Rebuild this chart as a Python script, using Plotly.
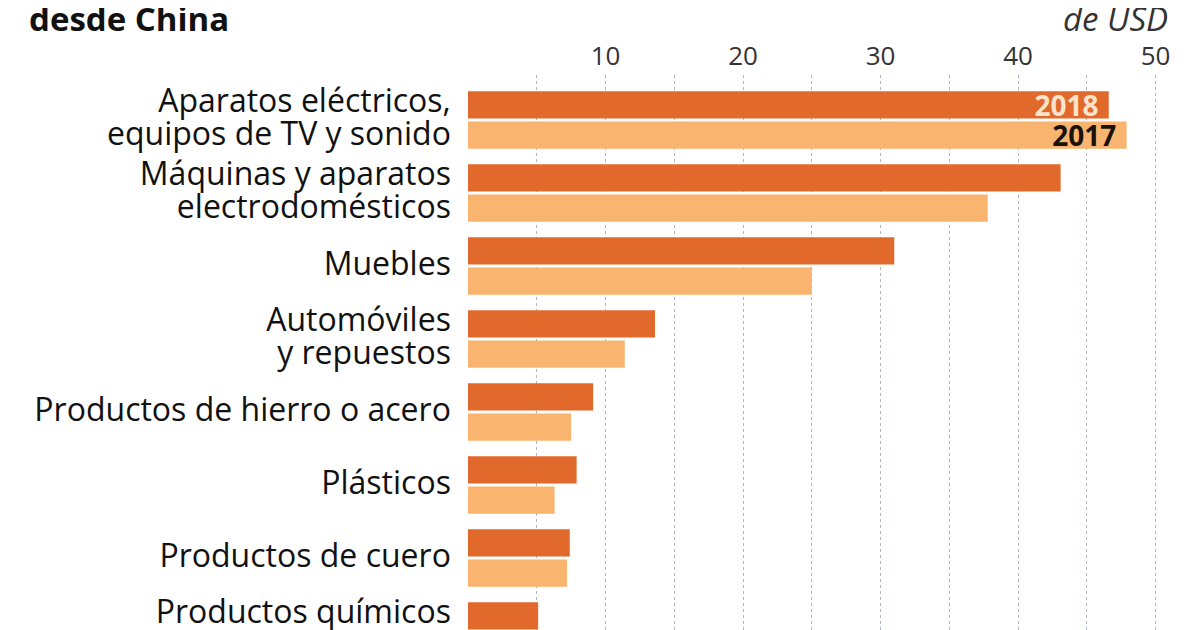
import plotly.graph_objects as go

categories = [
    "Aparatos eléctricos,<br>equipos de TV y sonido",
    "Máquinas y aparatos<br>electrodomésticos",
    "Muebles",
    "Automóviles<br>y repuestos",
    "Productos de hierro o acero",
    "Plásticos",
    "Productos de cuero",
    "Productos químicos<br>orgánicos",
]
values_2018 = [46.6, 43.1, 31.0, 13.6, 9.1, 7.9, 7.4, 5.1]
values_2017 = [47.9, 37.8, 25.0, 11.4, 7.5, 6.3, 7.2, 4.6]
labels_2018 = ["2018\u00a0", "", "", "", "", "", "", ""]
labels_2017 = ["2017\u00a0", "", "", "", "", "", "", ""]
major_ticks = [10, 20, 30, 40, 50]
minor_ticks = [5, 15, 25, 35, 45]

FONT = "Open Sans"
C2018 = "#e0692b"
C2017 = "#f9b46f"
GRID = "#aeb6c4"

# page is rendered with an 8px body margin, so layout is offset by -8px
L, R, T, B = 460, 10, 67, 0
PW, PH = 1200 - L - R, 630 - T - B
PX_PER_UNIT = 13.75
PX_PER_ROW = 73.0

# glyphs larger than the base size so that line spacing stays tight
SPAN = '<span style="font-size:32px">'
cat_ticktext = [SPAN + c.replace("<br>", "</span><br>" + SPAN) + "</span>" for c in categories]

fig = go.Figure()
fig.add_trace(go.Bar(
    y=categories, x=values_2018, orientation="h", name="2018",
    marker=dict(color=C2018, line=dict(width=0)),
    text=labels_2018, textposition="inside", insidetextanchor="end",
    constraintext="none",
    textfont=dict(family=FONT, size=28, color="#fde3cb", weight="bold"),
))
fig.add_trace(go.Bar(
    y=categories, x=values_2017, orientation="h", name="2017",
    marker=dict(color=C2017, line=dict(width=0)),
    text=labels_2017, textposition="inside", insidetextanchor="end",
    constraintext="none",
    textfont=dict(family=FONT, size=28, color="#1a1108", weight="bold"),
))

fig.update_layout(
    width=1200, height=630,
    margin=dict(l=L, r=R, t=T, b=B),
    paper_bgcolor="white", plot_bgcolor="white",
    barmode="group", bargap=0.17, bargroupgap=0.10,
    showlegend=False,
    font=dict(family=FONT, color="#111111"),
    xaxis=dict(
        side="top", range=[0, PW / PX_PER_UNIT], tickvals=major_ticks,
        tickfont=dict(family=FONT, size=26, color="#333333"),
        showgrid=True, gridcolor=GRID, griddash="dot", gridwidth=1,
        minor=dict(tickvals=minor_ticks, showgrid=True, gridcolor=GRID,
                   griddash="dot", gridwidth=1),
        zeroline=False, showline=False, ticks="", ticklabelstandoff=4,
        automargin=False, fixedrange=True,
    ),
    yaxis=dict(
        type="category", range=[-0.616 + PH / PX_PER_ROW, -0.616],
        tickvals=categories, ticktext=cat_ticktext,
        tickfont=dict(family=FONT, size=25.5, color="#111111"),
        showgrid=False, zeroline=False, showline=False,
        ticks="outside", ticklen=11, tickcolor="rgba(0,0,0,0)",
        automargin=False, fixedrange=True,
    ),
    annotations=[
        dict(text="<b>desde China</b>", xref="paper", yref="paper",
             x=(19 - L) / PW, y=(630 - 11) / PH, xanchor="left", yanchor="middle",
             showarrow=False, font=dict(family=FONT, size=33, color="#111111")),
        dict(text="<i>de USD</i>", xref="paper", yref="paper",
             x=(1162 - L) / PW, y=(630 - 11) / PH, xanchor="right", yanchor="middle",
             showarrow=False, font=dict(family=FONT, size=33, color="#333333")),
    ],
)

fig.write_html("out.html")
